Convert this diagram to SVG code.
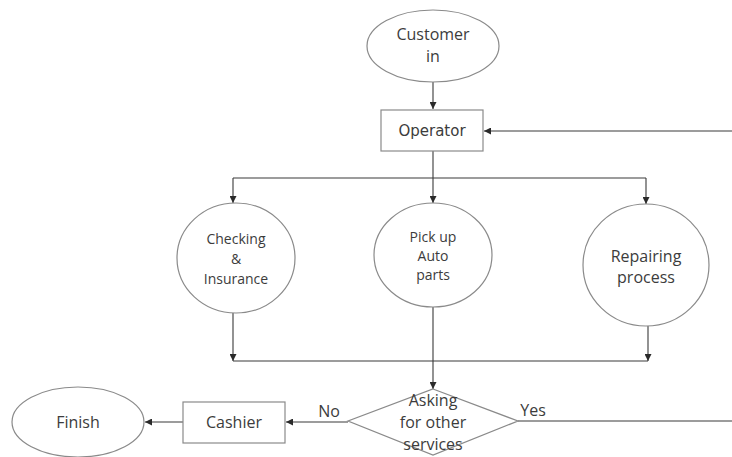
<svg xmlns="http://www.w3.org/2000/svg" width="732" height="457" viewBox="0 0 732 457">
  <style>
    .shape { fill: #ffffff; stroke: #8a8a8a; stroke-width: 1.2; }
    .conn { fill: none; stroke: #3a3a3a; stroke-width: 1.1; }
    .lbl { font-family: "Open Sans", "Liberation Sans", sans-serif; font-size: 14px; fill: #3c3c3c; text-anchor: middle; }
    .big { font-size: 16px; }
    .mono { font-family: "DejaVu Sans", sans-serif; font-size: 15px; }
  </style>
  <defs>
    <marker id="arrow" viewBox="0 0 10 10" refX="10" refY="5" markerWidth="7" markerHeight="7" markerUnits="userSpaceOnUse" orient="auto">
      <path d="M0,0 L10,5 L0,10 z" fill="#2a2a2a"/>
    </marker>
  </defs>
  <rect width="732" height="457" fill="#ffffff"/>

  <g id="connectors">
    <!-- start to operator -->
    <path class="conn" d="M433,82 V109" marker-end="url(#arrow)"/>
    <!-- loop back from Yes -->
    <path class="conn" d="M732,131 H484" marker-end="url(#arrow)"/>
    <!-- operator fan-out -->
    <path class="conn" d="M433,151 V178"/>
    <path class="conn" d="M233,178 H646"/>
    <path class="conn" d="M233,178 V203" marker-end="url(#arrow)"/>
    <path class="conn" d="M433,178 V203" marker-end="url(#arrow)"/>
    <path class="conn" d="M646,178 V204" marker-end="url(#arrow)"/>
    <!-- merge into decision -->
    <path class="conn" d="M233,313 V361" marker-end="url(#arrow)"/>
    <path class="conn" d="M648,326 V361" marker-end="url(#arrow)"/>
    <path class="conn" d="M233,361 H648"/>
    <path class="conn" d="M433,306 V389" marker-end="url(#arrow)"/>
    <!-- decision outcomes -->
    <path class="conn" d="M518,421 H732"/>
    <path class="conn" d="M348,422 H286" marker-end="url(#arrow)"/>
    <path class="conn" d="M183,422 H145" marker-end="url(#arrow)"/>
  </g>

  <g id="customer-in">
    <ellipse class="shape" cx="433" cy="46" rx="66" ry="36"/>
    <text class="lbl big" x="433" y="40">Customer</text>
    <text class="lbl big" x="433" y="62">in</text>
  </g>

  <g id="operator">
    <rect class="shape" x="381" y="110" width="102" height="41"/>
    <text class="lbl mono" x="432" y="136">Operator</text>
  </g>

  <g id="checking-insurance">
    <ellipse class="shape" cx="236" cy="258" rx="59" ry="55"/>
    <text class="lbl" x="236" y="244">Checking</text>
    <text class="lbl" x="236" y="264">&amp;</text>
    <text class="lbl" x="236" y="284">Insurance</text>
  </g>

  <g id="pick-up-auto-parts">
    <ellipse class="shape" cx="433" cy="255" rx="59" ry="52"/>
    <text class="lbl" x="433" y="242">Pick up</text>
    <text class="lbl" x="433" y="261">Auto</text>
    <text class="lbl" x="433" y="280">parts</text>
  </g>

  <g id="repairing-process">
    <ellipse class="shape" cx="646" cy="265" rx="63" ry="61"/>
    <text class="lbl big" x="646" y="262">Repairing</text>
    <text class="lbl big" x="646" y="283">process</text>
  </g>

  <g id="asking-other-services">
    <polygon class="shape" points="433,389 518,421 433,455 348,421"/>
    <text class="lbl big" x="433" y="406">Asking</text>
    <text class="lbl big" x="433" y="428">for other</text>
    <text class="lbl big" x="433" y="450">services</text>
  </g>

  <g id="cashier">
    <rect class="shape" x="183" y="402" width="102" height="41"/>
    <text class="lbl big" x="234" y="428">Cashier</text>
  </g>

  <g id="finish">
    <ellipse class="shape" cx="78" cy="422" rx="66" ry="35"/>
    <text class="lbl big" x="78" y="428">Finish</text>
  </g>

  <g id="branch-labels">
    <text class="lbl big" x="329" y="417">No</text>
    <text class="lbl big" x="533" y="416">Yes</text>
  </g>
</svg>
